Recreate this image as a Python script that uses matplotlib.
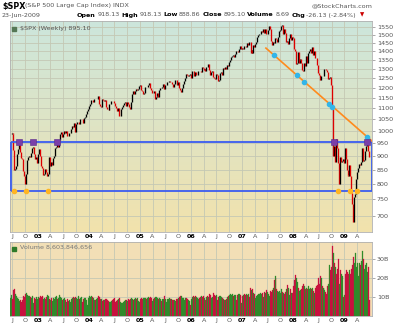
import matplotlib
matplotlib.use("Agg")
import matplotlib.pyplot as plt
import matplotlib.dates as mdates
import numpy as np
import pandas as pd

# ==== Data ====
# weekly closes of $SPX, week of 21-Jun-2002 .. 23-Jun-2009
closes_2002 = [989.1, 989.8, 989.0, 921.4, 847.8, 852.8, 864.2, 908.6, 928.8, 940.9, 916.1,
               893.9, 889.8, 845.4, 827.4, 800.6, 835.3, 884.4, 897.7, 901.0, 894.7, 909.8,
               930.6, 936.3, 906.6, 889.5, 895.8, 875.4]
closes_2003 = [908.6, 927.6, 901.8, 861.4, 855.7, 829.7, 834.9, 851.2, 841.2, 828.9, 833.3,
               895.8, 863.5, 878.9, 868.3, 893.6, 898.8, 930.1, 933.4, 946.7, 933.2, 963.6,
               987.8, 988.6, 995.7, 976.2, 985.7, 998.1, 993.3, 998.7, 980.2, 977.6, 990.7,
               993.1, 1008.0, 1021.4, 1018.6, 1036.3, 996.9, 1029.9, 1038.7, 1039.3, 1028.9,
               1050.7, 1053.2, 1050.4, 1035.3, 1058.2, 1061.5, 1074.1, 1088.7, 1095.9]
closes_2004 = [1108.5, 1121.9, 1139.8, 1141.6, 1131.1, 1142.8, 1145.8, 1144.1, 1144.9, 1156.9,
               1120.6, 1109.8, 1108.1, 1141.8, 1139.3, 1134.6, 1140.6, 1107.3, 1098.7, 1095.7,
               1093.6, 1120.7, 1122.5, 1136.5, 1135.0, 1134.4, 1125.4, 1112.8, 1101.4, 1086.2,
               1101.7, 1064.0, 1064.8, 1098.4, 1107.8, 1113.6, 1123.9, 1128.6, 1110.1, 1131.5,
               1122.1, 1108.2, 1095.7, 1130.2, 1166.2, 1184.2, 1170.3, 1182.7, 1191.2, 1188.0,
               1194.2, 1210.1, 1211.9]
closes_2005 = [1186.2, 1184.5, 1167.9, 1171.4, 1203.0, 1205.3, 1201.6, 1211.4, 1222.1, 1200.1,
               1190.2, 1171.4, 1172.9, 1181.2, 1142.6, 1152.1, 1156.9, 1171.4, 1154.1, 1189.3,
               1198.8, 1196.0, 1200.9, 1217.0, 1191.6, 1211.9, 1211.9, 1227.9, 1229.0, 1234.2,
               1226.4, 1230.4, 1219.7, 1205.1, 1218.0, 1241.5, 1237.9, 1215.3, 1228.8, 1195.9,
               1186.6, 1179.6, 1198.4, 1220.1, 1234.7, 1248.3, 1268.3, 1265.1, 1259.4, 1267.3,
               1268.7, 1248.3]
closes_2006 = [1285.5, 1287.6, 1261.5, 1283.7, 1264.0, 1267.0, 1287.2, 1289.4, 1287.2, 1281.4,
               1307.3, 1303.0, 1294.8, 1295.5, 1289.1, 1311.3, 1310.6, 1325.8, 1291.2, 1267.0,
               1280.2, 1288.2, 1252.3, 1251.5, 1244.5, 1270.2, 1265.5, 1236.2, 1240.3, 1278.6,
               1279.4, 1266.7, 1302.3, 1295.1, 1311.0, 1298.9, 1319.7, 1314.8, 1335.9, 1349.6,
               1365.6, 1368.6, 1377.3, 1364.3, 1380.9, 1401.2, 1401.0, 1396.7, 1409.8, 1427.1,
               1410.8, 1418.3]
closes_2007 = [1409.7, 1430.7, 1430.5, 1422.2, 1448.4, 1438.1, 1455.5, 1451.2, 1387.2, 1402.8,
               1387.0, 1436.1, 1420.9, 1443.8, 1452.9, 1484.4, 1494.1, 1505.6, 1505.9, 1522.8,
               1515.7, 1536.3, 1507.7, 1532.9, 1502.6, 1503.4, 1530.4, 1552.5, 1534.1, 1459.0,
               1433.1, 1453.6, 1445.9, 1479.4, 1474.0, 1453.6, 1484.3, 1525.8, 1526.8, 1557.6,
               1561.8, 1500.6, 1535.3, 1509.7, 1453.7, 1458.7, 1440.7, 1481.1, 1504.7, 1468.0,
               1484.5, 1478.5]
closes_2008 = [1411.6, 1401.0, 1325.2, 1330.6, 1395.4, 1331.3, 1350.0, 1353.1, 1330.6, 1293.4,
               1288.1, 1329.5, 1315.2, 1370.4, 1332.8, 1390.3, 1397.8, 1413.9, 1388.3, 1425.4,
               1375.9, 1400.4, 1360.7, 1360.0, 1317.9, 1278.4, 1262.9, 1239.5, 1260.7, 1257.8,
               1260.3, 1296.3, 1298.2, 1292.2, 1282.8, 1242.3, 1251.7, 1255.1, 1213.3, 1099.2,
               899.2, 940.6, 876.8, 968.8, 931.0, 873.3, 800.0, 896.2, 876.1, 879.7, 887.9,
               872.8]
closes_2009 = [931.8, 890.4, 850.1, 832.0, 825.9, 868.6, 826.8, 770.1, 735.1, 683.4, 756.6,
               768.5, 815.9, 842.5, 856.6, 869.6, 866.2, 877.5, 929.2, 882.9, 887.0, 919.1,
               940.1, 946.2, 921.2, 895.1]

# weekly volume, billions
vol_2002 = [9.5, 11.0, 9.0, 13.5, 14.0, 11.5, 10.5, 9.5, 8.8, 8.0, 8.5, 7.5, 8.5, 10.5, 10.0,
            11.5, 12.0, 11.0, 10.5, 10.8, 10.0, 9.5, 10.5, 7.0, 9.5, 9.0, 10.0, 6.5]
vol_2003 = [9.0, 10.0, 9.5, 10.5, 10.0, 10.5, 9.0, 9.5, 9.0, 10.0, 11.0, 10.5, 9.0, 8.5, 9.5,
            8.0, 9.5, 9.0, 10.0, 10.5, 9.0, 9.5, 11.0, 10.0, 9.5, 8.5, 9.0, 9.5, 8.5, 7.5, 9.0,
            8.0, 8.5, 7.5, 9.0, 9.5, 10.0, 9.5, 10.0, 9.5, 9.0, 10.5, 9.0, 9.5, 10.0, 7.5, 9.0,
            9.5, 9.0, 9.5, 8.5, 6.0]
vol_2004 = [9.5, 10.5, 10.0, 10.5, 10.0, 9.5, 8.5, 8.5, 9.0, 9.5, 10.5, 10.0, 9.0, 9.0, 8.0,
            8.5, 8.5, 9.0, 9.0, 8.5, 8.0, 7.5, 7.5, 8.0, 8.5, 9.0, 9.5, 7.5, 8.0, 8.5, 9.0, 9.5,
            7.5, 7.0, 7.0, 7.5, 8.0, 8.5, 8.5, 8.0, 9.0, 8.5, 9.0, 9.5, 9.0, 8.5, 8.5, 9.0, 9.5,
            9.0, 9.5, 8.0, 7.5]
vol_2005 = [9.0, 9.5, 9.0, 9.5, 9.5, 9.5, 9.0, 9.5, 10.0, 9.5, 10.0, 9.5, 8.0, 9.0, 9.5, 10.0,
            10.0, 9.5, 9.0, 9.5, 9.0, 8.0, 9.0, 9.0, 10.5, 9.0, 7.5, 9.0, 9.0, 9.5, 9.0, 9.0,
            8.5, 8.5, 8.5, 8.0, 9.0, 9.0, 9.5, 10.0, 10.5, 10.0, 10.5, 9.5, 9.5, 8.5, 9.5, 9.5,
            9.0, 8.5, 8.0, 6.0]
vol_2006 = [9.0, 10.0, 10.5, 10.0, 10.5, 10.0, 9.5, 9.0, 9.5, 10.0, 10.5, 10.0, 10.5, 9.5, 8.5,
            10.0, 10.5, 10.0, 11.5, 11.0, 9.5, 10.0, 12.0, 11.0, 10.5, 11.0, 8.5, 10.0, 10.5,
            10.5, 10.0, 9.5, 9.0, 8.5, 8.5, 9.0, 10.0, 10.5, 10.0, 11.0, 11.5, 11.0, 11.5, 10.5,
            11.0, 11.0, 8.5, 11.0, 11.5, 11.5, 11.0, 7.0]
vol_2007 = [10.5, 11.0, 11.5, 11.0, 11.5, 11.0, 11.5, 10.0, 15.0, 13.5, 14.0, 12.0, 11.5, 9.5,
            10.5, 11.0, 11.5, 11.5, 12.0, 11.5, 12.0, 10.0, 12.5, 12.0, 13.5, 12.5, 11.5, 10.5,
            13.0, 12.5, 13.5, 14.5, 19.0, 21.0, 20.0, 14.0, 13.0, 12.5, 13.0, 12.0, 14.0, 12.5,
            12.0, 11.5, 12.5, 14.0, 16.5, 15.0, 11.0, 14.0, 12.0, 12.0]
vol_2008 = [16.0, 19.0, 21.5, 20.0, 18.0, 15.0, 13.0, 13.5, 14.0, 16.0, 17.0, 16.0, 14.0, 15.0,
            14.0, 16.0, 14.0, 15.0, 14.0, 14.5, 13.0, 12.0, 15.0, 16.0, 16.5, 20.0, 17.0, 21.0,
            20.0, 16.0, 15.0, 15.0, 13.5, 12.5, 11.5, 16.0, 17.0, 27.0, 24.0, 26.0, 37.0, 33.0,
            28.0, 26.0, 22.0, 25.0, 30.0, 17.0, 24.0, 22.0, 21.0, 10.0]
vol_2009 = [11.0, 22.0, 24.0, 23.0, 22.0, 24.0, 22.0, 25.0, 27.0, 31.0, 28.0, 33.0, 26.0, 28.0,
            21.0, 28.0, 27.0, 29.0, 34.0, 30.0, 25.0, 27.0, 28.0, 23.0, 26.0, 8.6]

closes = closes_2002 + closes_2003 + closes_2004 + closes_2005 + closes_2006 + closes_2007 + closes_2008 + closes_2009
volumes = vol_2002 + vol_2003 + vol_2004 + vol_2005 + vol_2006 + vol_2007 + vol_2008 + vol_2009

# annotation lines and markers
box_start, box_end = "2002-06-21", "2009-07-15"
box_top, box_bottom = 955, 776
trend_dates = ["2007-06-20", "2009-07-16"]
trend_values = [1417, 959]
touch_dates = ["2007-08-17", "2008-01-25", "2008-03-19", "2008-09-16", "2008-10-06", "2009-06-09"]
touch_values = [1374, 1264, 1231, 1120, 1108, 975]
resist_dates = ["2002-08-22", "2002-11-27", "2003-05-16", "2008-10-20", "2009-06-09"]
support_dates = ["2002-07-19", "2002-10-09", "2003-03-14", "2008-11-14", "2009-02-08", "2009-03-30"]

price_ticks = list(range(700, 1551, 50))
vol_ticks = [10, 20, 30]
vol_tick_labels = ["10B", "20B", "30B"]

# ==== Plot ====
W, H = 400, 327
fig = plt.figure(figsize=(4, 3.27), dpi=100)
fig.patch.set_facecolor("white")

def fx(px):
    return px / W

def fy(py):
    return 1 - py / H

dates = pd.date_range("2002-06-21", periods=len(closes), freq="W-FRI")
d = mdates.date2num(dates)
c = np.array(closes)
opens = np.concatenate([[c[0]], c[:-1]])
up = c >= opens
xlim = (mdates.datestr2num("2002-06-17"), mdates.datestr2num("2009-07-17"))

quarters = pd.date_range("2002-07-01", "2009-04-01", freq="QS")
q_num = mdates.date2num(quarters)
q_labels = []
for q in quarters:
    if q.month == 1:
        q_labels.append(q.strftime("%y"))
    else:
        q_labels.append({4: "A", 7: "J", 10: "O"}[q.month])

grid_col = "#c4c8b4"
txt_col = "#555555"
fs = 4.6

def style_xaxis(ax):
    ax.set_xlim(*xlim)
    ax.set_xticks(q_num)
    ax.set_xticklabels(q_labels)
    for lab, q in zip(ax.get_xticklabels(), quarters):
        if q.month == 1:
            lab.set_fontweight("bold")
            lab.set_color("black")
        else:
            lab.set_color(txt_col)
    ax.tick_params(axis="x", labelsize=fs, length=0, pad=1.5)
    for x in q_num:
        ax.axvline(x, color=grid_col, lw=0.6, zorder=1)
    for s in ax.spines.values():
        s.set_color("#b0b0b0")
        s.set_linewidth(0.6)

# --- price panel ---
ax = fig.add_axes([fx(10), fy(232), fx(372) - fx(10), fy(21) - fy(232)])
grad = np.linspace(0, 1, 256)[:, None]
top_col = np.array([204, 230, 220]) / 255
bot_col = np.array([242, 226, 172]) / 255
img = top_col[None, None, :] * (1 - grad[:, :, None]) + bot_col[None, None, :] * grad[:, :, None]
ax.imshow(img, extent=[0, 1, 0, 1], transform=ax.transAxes, aspect="auto", zorder=0)
ax.set_yscale("log")
ax.set_ylim(654, 1588)
for t in price_ticks:
    ax.axhline(t, color=grid_col, lw=0.6, zorder=1)
style_xaxis(ax)
ax.yaxis.tick_right()
ax.yaxis.set_minor_locator(matplotlib.ticker.NullLocator())
ax.set_yticks(price_ticks)
ax.set_yticklabels([str(t) for t in price_ticks])
ax.tick_params(axis="y", labelsize=fs, labelcolor=txt_col, length=2, width=0.5,
               color="#888888", pad=1.5)

lo = np.minimum(opens, c)
hi = np.maximum(opens, c)
ax.vlines(d, lo, hi, colors=np.where(up, "black", "#dd0000"), lw=0.95, zorder=3)

# blue box
bx = mdates.datestr2num([box_start, box_end])
ax.hlines([box_top, box_bottom], bx[0], bx[1], colors="#3a5cf0", lw=1.3, zorder=4)
ax.vlines(bx, box_bottom, box_top, colors="#3a5cf0", lw=1.3, zorder=4)
# trend line
ax.plot(mdates.datestr2num(trend_dates), trend_values, color="#ff8a1c", lw=1.2, zorder=4)
ax.plot(mdates.datestr2num(touch_dates), touch_values, "o", ms=3, color="#33b5e8",
        mec="#33b5e8", zorder=5)
ax.plot(mdates.datestr2num(resist_dates), [box_top] * len(resist_dates), "s", ms=3.8,
        color="#7a3fa8", mec="#5a2a88", mew=0.4, zorder=5)
ax.plot(mdates.datestr2num(support_dates), [box_bottom] * len(support_dates), "o", ms=3,
        color="#ffb522", mec="#ffb522", zorder=5)

ax.text(0.028, 0.975, "$SPX (Weekly) 895.10", transform=ax.transAxes, fontsize=fs,
        color=txt_col, va="top", ha="left", zorder=6)
ax.plot([0.012], [0.962], marker="s", ms=2.5, color="#557755", transform=ax.transAxes,
        zorder=6, clip_on=False)

# --- volume panel ---
av = fig.add_axes([fx(10), fy(316), fx(372) - fx(10), fy(242) - fy(316)])
av.set_facecolor("#f2dfb6")
av.set_ylim(0, 39)
for t in vol_ticks:
    av.axhline(t, color=grid_col, lw=0.6, zorder=1)
style_xaxis(av)
av.yaxis.tick_right()
av.set_yticks(vol_ticks)
av.set_yticklabels(vol_tick_labels)
av.tick_params(axis="y", labelsize=fs, labelcolor=txt_col, length=2, width=0.5,
               color="#888888", pad=1.5)
vcol = np.where(up, "#2f8a2a", "#c8103e")
av.bar(d, volumes, width=7, color=vcol, edgecolor=vcol, lw=0.2, zorder=3)
av.text(0.028, 0.96, "Volume 8,603,846,656", transform=av.transAxes, fontsize=fs,
        color="#777777", va="top", ha="left", zorder=6)
av.plot([0.012], [0.9], marker="s", ms=2.5, color="#2f7a2a", transform=av.transAxes,
        zorder=6, clip_on=False)

# --- header ---
fig.text(fx(2), fy(6), "$SPX", fontsize=5.8, fontweight="bold", va="center")
fig.text(fx(25), fy(6), "(S&P 500 Large Cap Index) INDX", fontsize=fs, color=txt_col, va="center")
fig.text(fx(372), fy(6), "@StockCharts.com", fontsize=fs, color=txt_col, va="center", ha="right")
fig.text(fx(2), fy(15), "23-Jun-2009", fontsize=fs, color=txt_col, va="center")

header = [("Open", "918.13"), ("High", "918.13"), ("Low", "888.86"), ("Close", "895.10"),
          ("Volume", "8.69"), ("Chg", "-26.13 (-2.84%)")]
renderer = fig.canvas.get_renderer()
items = []
for lab, val in header:
    t1 = fig.text(0, fy(15), lab, fontsize=fs, fontweight="bold", va="center")
    t2 = fig.text(0, fy(15), val, fontsize=fs, color=txt_col, va="center")
    items.append((t1, t2))
widths = [(a.get_window_extent(renderer).width, b.get_window_extent(renderer).width)
          for a, b in items]
start, end, inner = 77, 356, 1.5
total = sum(w1 + w2 + inner for w1, w2 in widths)
gap = (end - start - total) / (len(items) - 1)
x = start
for (t1, t2), (w1, w2) in zip(items, widths):
    t1.set_x(fx(x))
    x += w1 + inner
    t2.set_x(fx(x))
    x += w2 + gap
fig.text(fx(360), fy(15), "\u25bc", fontsize=4, color="#cc0000", va="center")

fig.savefig("out.png", dpi=100)
